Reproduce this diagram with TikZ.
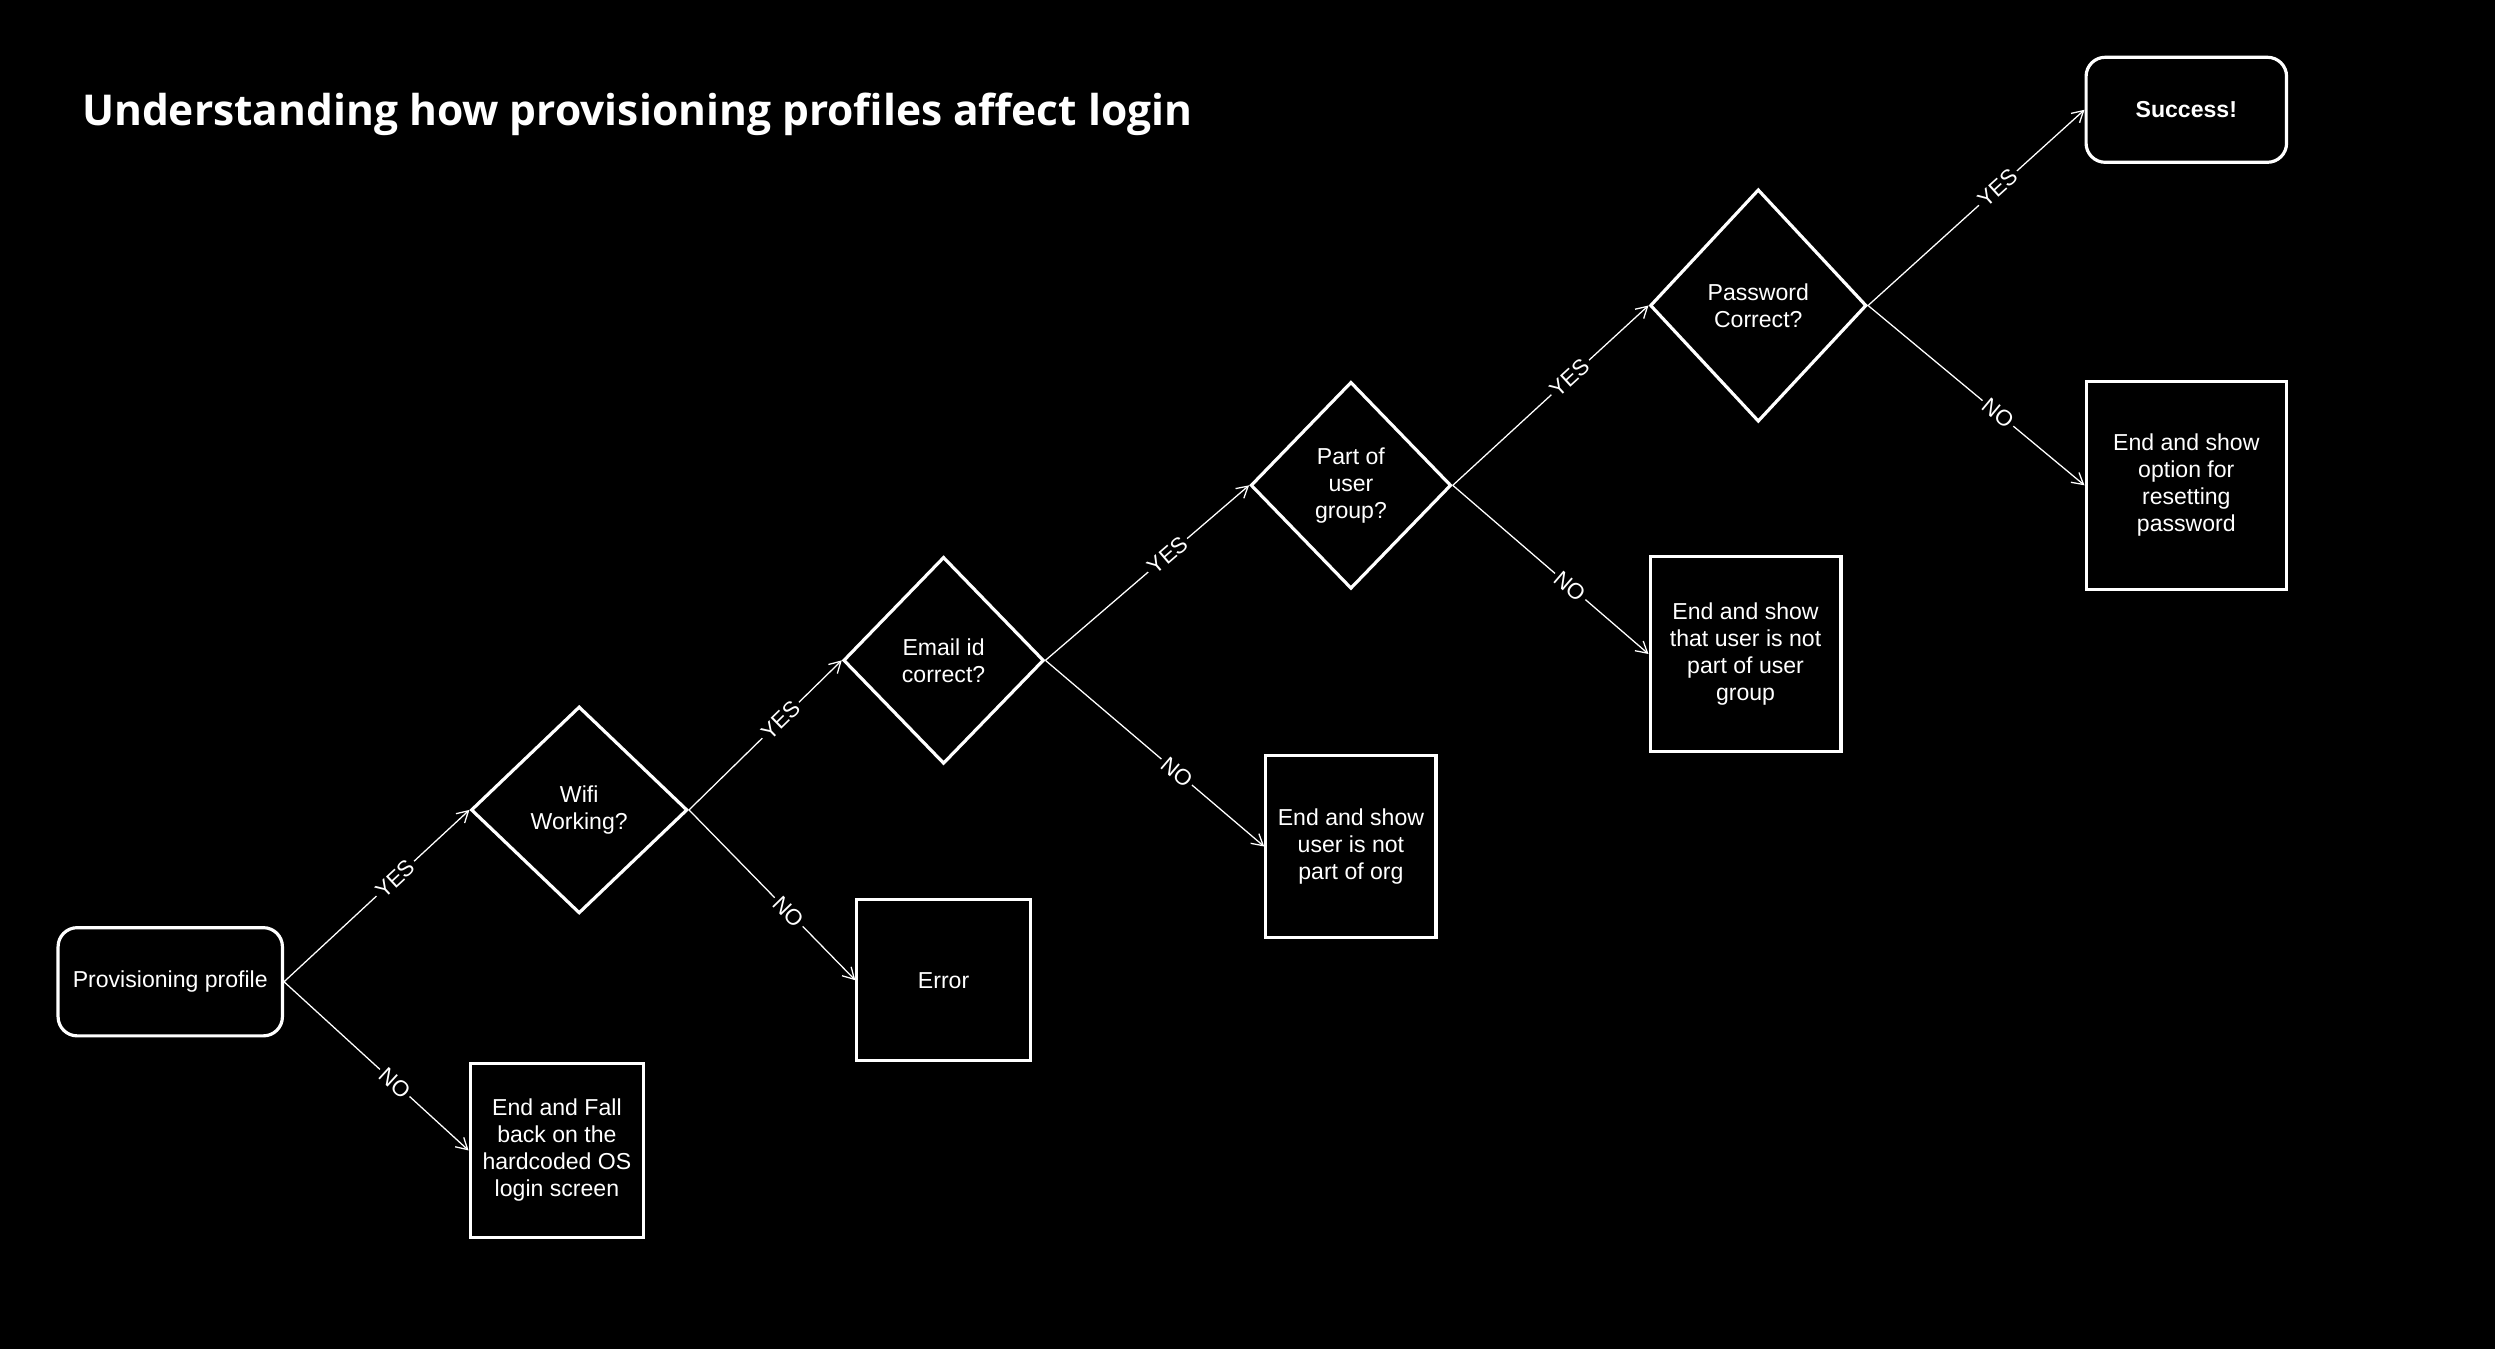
\documentclass[tikz,border=0pt]{standalone}
\usepackage{fontspec}
\setmainfont{Liberation Sans}
\newfontfamily\titlefont{Open Sans}
\usetikzlibrary{shapes.geometric,arrows.meta}
\begin{document}
\begin{tikzpicture}[x=1pt,y=-1pt,
  every node/.style={text=white,font=\fontsize{14.5}{17}\selectfont,align=center},
  boxr/.style={draw=white,line width=2pt,rounded corners=12pt,inner sep=0pt},
  boxs/.style={draw=white,line width=2pt,inner sep=0pt},
  dia/.style={draw=white,line width=2pt,diamond,inner sep=0pt},
  conn/.style={draw=white,line width=0.8pt,-{Straight Barb[length=7pt,width=8pt]}},
  lbl/.style={sloped,pos=0.6,fill=black,inner sep=2pt,font=\fontsize{14}{16}\selectfont}]
\fill[black] (0,0) rectangle (1568,848);
\useasboundingbox (0,0) rectangle (1568,848);
\node[anchor=west,font=\titlefont\bfseries\fontsize{26.7}{32}\selectfont] (title) at (48,72) {Understanding how provisioning profiles affect login};
\node[boxr,minimum width=141pt,minimum height=68pt] (pp) at (107,617) {Provisioning profile};
\node[boxs,minimum width=109pt,minimum height=109pt] (fb) at (350,723) {End and Fall\\back on the\\hardcoded OS\\login screen};
\node[dia,minimum width=136pt,minimum height=130pt] (wifi) at (364,509) {Wifi\\Working?};
\node[boxs,minimum width=109pt,minimum height=101pt] (err) at (593,616) {Error};
\node[dia,minimum width=126pt,minimum height=130pt] (email) at (593,415) {Email id\\correct?};
\node[boxs,minimum width=107pt,minimum height=114pt] (org) at (849,532) {End and show\\user is not\\part of org};
\node[dia,minimum width=126pt,minimum height=130pt] (grp) at (849,305) {Part of\\user\\group?};
\node[boxs,minimum width=120pt,minimum height=123pt] (ngrp) at (1097,411) {End and show\\that user is not\\part of user\\group};
\node[dia,minimum width=136pt,minimum height=146pt] (pw) at (1105,192) {Password\\Correct?};
\node[boxr,minimum width=126pt,minimum height=66pt,font=\bfseries\fontsize{14.5}{17}\selectfont] (succ) at (1374,69) {Success!};
\node[boxs,minimum width=126pt,minimum height=131pt] (reset) at (1374,305) {End and show\\option for\\resetting\\password};
\path[conn] (pp.east) -- node[lbl]{YES} (wifi.west);
\path[conn] (pp.east) -- node[lbl]{NO} (fb.west);
\path[conn] (wifi.east) -- node[lbl]{YES} (email.west);
\path[conn] (wifi.east) -- node[lbl]{NO} (err.west);
\path[conn] (email.east) -- node[lbl]{YES} (grp.west);
\path[conn] (email.east) -- node[lbl]{NO} (org.west);
\path[conn] (grp.east) -- node[lbl]{YES} (pw.west);
\path[conn] (grp.east) -- node[lbl]{NO} (ngrp.west);
\path[conn] (pw.east) -- node[lbl]{YES} (succ.west);
\path[conn] (pw.east) -- node[lbl]{NO} (reset.west);
\end{tikzpicture}
\end{document}
